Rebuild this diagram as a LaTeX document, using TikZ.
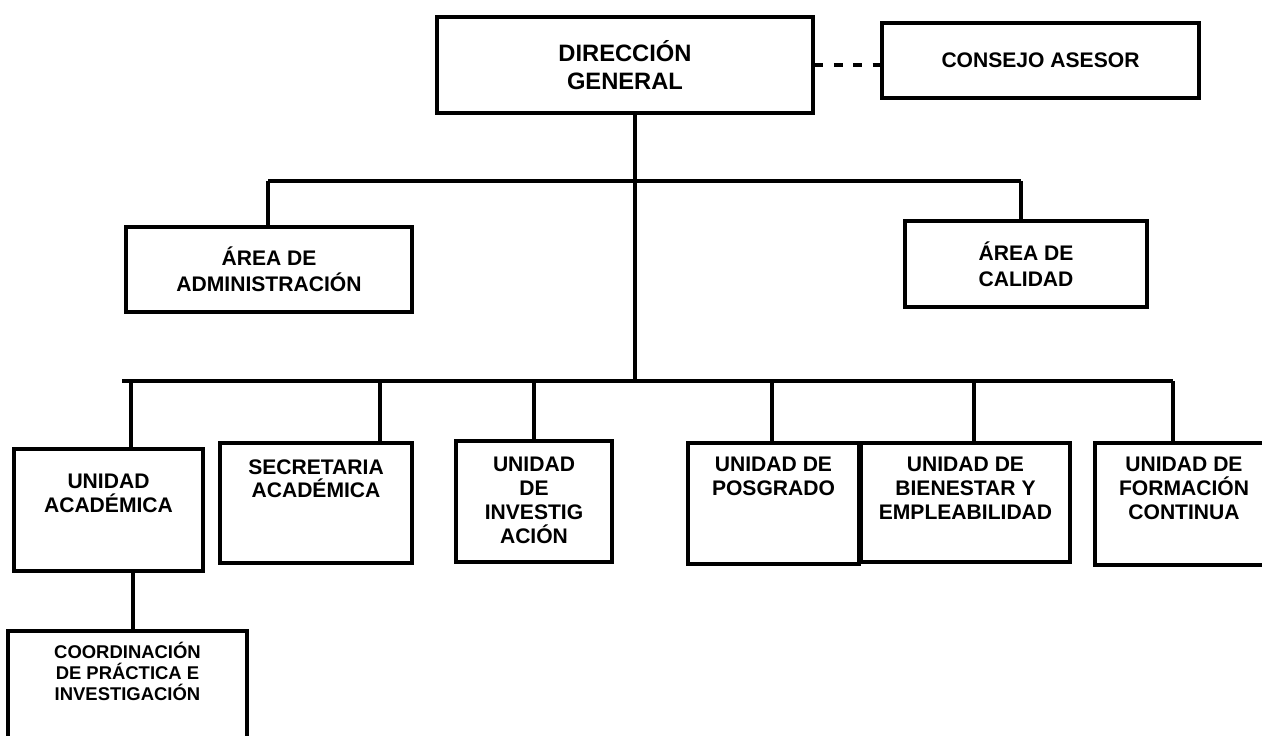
\documentclass[tikz,border=0pt]{standalone}
\usepackage{fontspec}
\setmainfont{Liberation Sans}
\usetikzlibrary{positioning}

\begin{document}
\begin{tikzpicture}[x=0.02cm, y=-0.02cm,
    box/.style={draw, line width=1.8pt, inner sep=0pt, align=center,
        font=\bfseries\fontsize{12}{14.7}\selectfont},
    txt/.style={inner sep=0pt, align=center, anchor=north,
        font=\bfseries\fontsize{12}{13.6}\selectfont},
    bus/.style={line width=2.4pt},
    link/.style={line width=1.8pt},
    adviser/.style={line width=1.8pt, dash pattern=on 5pt off 6pt}]
    % Frame
    \useasboundingbox (0,0) rectangle (1262,735);
    \clip (0,0) rectangle (1262,735);

    % Top level
    \node[box, minimum width=7.52cm, minimum height=1.92cm,
        font=\bfseries\fontsize{13.5}{16}\selectfont] (dg) at (625,65) {DIRECCIÓN\\GENERAL};
    \node[box, minimum width=6.34cm, minimum height=1.5cm] (ca) at (1040.5,60.5) {CONSEJO ASESOR};
    \draw[adviser] (dg.east) -- (dg.east -| ca.west);

    % Areas
    \node[box, minimum width=5.72cm, minimum height=1.7cm] (adm) at (269,269.5) {ÁREA DE\\ADMINISTRACIÓN};
    \node[box, minimum width=4.84cm, minimum height=1.72cm] (cal) at (1026,264) {ÁREA DE\\CALIDAD};

    \coordinate (a-left) at (268,181);
    \coordinate (a-right) at (1021,181);
    \coordinate (trunk) at (635,381);
    \draw[link] (dg.south -| trunk) -- (trunk);
    \draw[bus] (a-left) -- (a-right);
    \draw[link] (a-left) -- (a-left |- adm.north);
    \draw[link] (a-right) -- (a-right |- cal.north);

    % Units
    \node[box, minimum width=3.78cm, minimum height=2.44cm] (ua) at (108.5,510) {};
    \node[box, minimum width=3.84cm, minimum height=2.4cm] (sec) at (316,503) {};
    \node[box, minimum width=3.12cm, minimum height=2.42cm] (inv) at (534,501.5) {};
    \node[box, minimum width=3.42cm, minimum height=2.42cm] (pos) at (773.5,503.5) {};
    \node[box, minimum width=4.18cm, minimum height=2.38cm] (bie) at (965.5,502.5) {};
    \node[box, minimum width=3.56cm, minimum height=2.44cm] (for) at (1184,504) {};
    \node[box, minimum width=4.78cm, minimum height=2.4cm] (coo) at (127.5,691) {};

    \node[txt, below=14.7pt of ua.north] (ua-t) {UNIDAD\\ACADÉMICA};
    \node[txt, below=10pt of sec.north] (sec-t) {SECRETARIA\\ACADÉMICA};
    \node[txt, below=10pt of inv.north] (inv-t) {UNIDAD\\DE\\INVESTIG\\ACIÓN};
    \node[txt, below=8.5pt of pos.north] (pos-t) {UNIDAD DE\\POSGRADO};
    \node[txt, below=8.5pt of bie.north] (bie-t) {UNIDAD DE\\BIENESTAR Y\\EMPLEABILIDAD};
    \node[txt, below=8.5pt of for.north] (for-t) {UNIDAD DE\\FORMACIÓN\\CONTINUA};
    \node[txt, below=7pt of coo.north, font=\bfseries\fontsize{10.5}{12}\selectfont] (coo-t)
        {COORDINACIÓN\\DE PRÁCTICA E\\INVESTIGACIÓN};

    \coordinate (b-left) at (122,381);
    \coordinate (b-right) at (1173,381);
    \draw[bus] (b-left) -- (b-right);
    \foreach \x/\n in {131/ua, 380/sec, 534/inv, 772/pos, 974/bie, 1173/for}
        \draw[link] (\x,381) -- (\x,381 |- \n.north);
    \draw[link] (ua.south -| 133,0) -- (coo.north -| 133,0);
\end{tikzpicture}
\end{document}
